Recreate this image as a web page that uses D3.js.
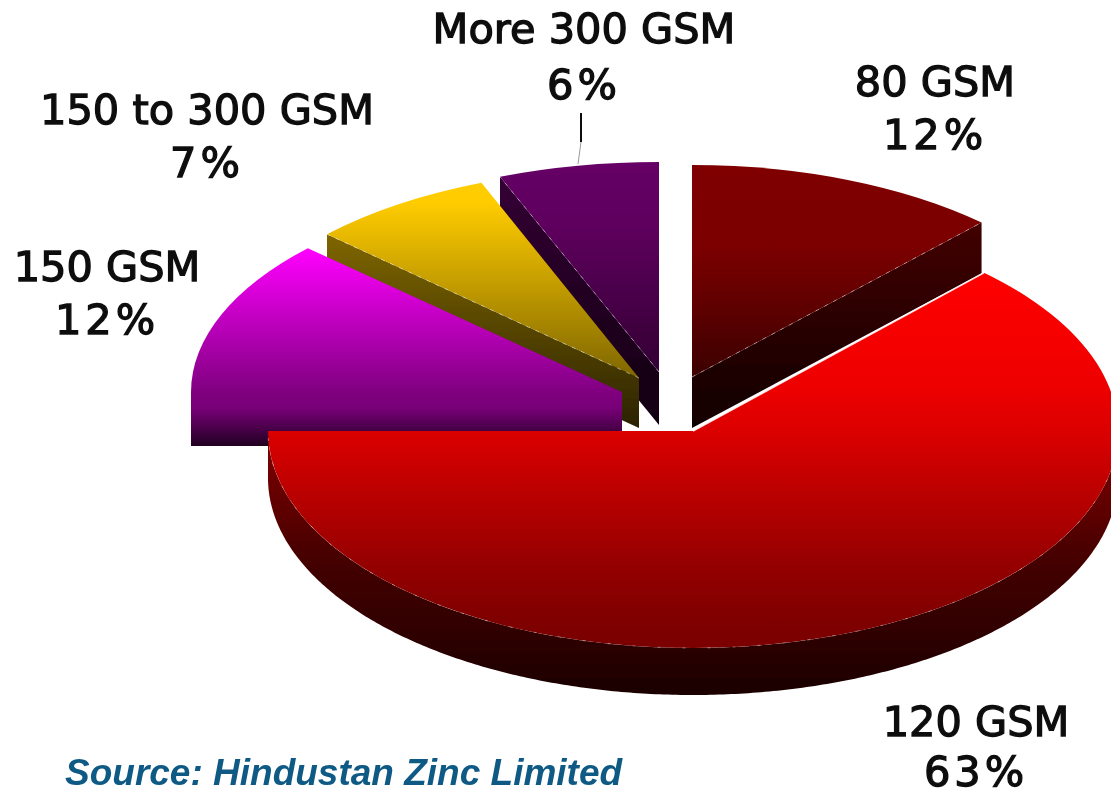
<!DOCTYPE html>
<html>
<head>
<meta charset="utf-8">
<title>GSM share</title>
<script src="https://cdn.jsdelivr.net/npm/d3@7"></script>
<style>
    html, body { margin: 0; padding: 0; background: #fff; }
    svg { display: block; }
    .lbl { font-family: "DejaVu Sans", sans-serif; font-size: 41.5px; fill: #111; stroke: #111; stroke-width: 1.3px; text-anchor: middle; }
    .pct { letter-spacing: 4px; }
    .source { font-family: "Liberation Sans", Arial, sans-serif; font-size: 37px; font-weight: bold; font-style: italic; fill: #0f5a85; }
</style>
</head>
<body>
<svg id="chart" width="1111" height="796"></svg>
<script>
// data, clockwise from 12 o'clock
const categories = ['80 GSM', '120 GSM', '150 GSM', '150 to 300 GSM', 'More 300 GSM'];
const shares = [12, 63, 12, 7, 6];
const sourceText = 'Source: Hindustan Zinc Limited';

// colours: top face stops, then side stops
const faceStops = [
    [[0, '#800000'], [0.4, '#7a0000'], [1, '#3c0000']],
    [[0, '#ff0000'], [0.3, '#ee0000'], [0.42, '#dc0000'], [0.6, '#b80000'], [0.77, '#960000'], [0.92, '#800000'], [1, '#7a0000']],
    [[0, '#ff00ff'], [1, '#800080']],
    [[0, '#ffcc00'], [0.1, '#ffcc00'], [1, '#7f6600']],
    [[0, '#660066'], [0.3, '#5e005e'], [1, '#330033']]
];
const sideStops = [
    [[0, '#420000'], [1, '#100000']],
    [[0, '#880000'], [0.2, '#6a0000'], [0.5, '#440000'], [0.8, '#2c0000'], [1, '#1a0000']],
    [[0, '#800080'], [0.3, '#780078'], [1, '#200020']],
    [[0, '#7f6600'], [1, '#2a2200']],
    [[0, '#340034'], [1, '#100010']]
];

// layout of the exploded slices
const apexX = [692, 693, 622, 639, 659];
const apexY = [377, 431, 392, 378, 372];
const radiusX = [423, 425, 431, 428, 432];
const radiusY = [212, 217, 210, 210, 210];
const depth = [51, 47, 54, 50, 53];
const drawOrder = [4, 3, 2, 0, 1];

// label anchors: centre x, first baseline, second baseline
const labelX = [935, 976, 107, 207, 584];
const labelY1 = [96, 736, 281, 124, 43];
const labelY2 = [149, 786, 334, 177, 99];

const svg = d3.select('#chart');
const defs = svg.append('defs');

const blur = defs.append('filter').attr('id', 'soft')
    .attr('x', '-5%').attr('y', '-5%').attr('width', '110%').attr('height', '110%');
blur.append('feGaussianBlur').attr('stdDeviation', 0.7);

function addGradient(id, stops) {
    const g = defs.append('linearGradient').attr('id', id)
        .attr('x1', 0).attr('y1', 0).attr('x2', 0).attr('y2', 1);
    stops.forEach(s => g.append('stop').attr('offset', s[0]).attr('stop-color', s[1]));
}

const arcs = d3.pie().sort(null).value(d => d)(shares);
const root = svg.append('g').attr('filter', 'url(#soft)');

drawOrder.forEach(i => {
    const a = arcs[i];
    const cx = apexX[i], cy = apexY[i], rx = radiusX[i], ry = radiusY[i], dp = depth[i];
    const pt = t => [cx + rx * Math.sin(t), cy - ry * Math.cos(t)];

    addGradient('face' + i, faceStops[i]);
    addGradient('side' + i, sideStops[i]);

    const g = root.append('g');
    const line = d3.line();
    let rim = null;

    // outer rim, only the part turned towards the viewer
    const from = Math.max(a.startAngle, Math.PI / 2);
    const to = Math.min(a.endAngle, Math.PI * 1.5);
    if (to > from) {
        const ts = d3.range(from, to, 0.01).concat([to]);
        rim = ts.map(pt);
        const lower = ts.slice().reverse().map(t => { const p = pt(t); return [p[0], p[1] + dp]; });
        g.append('path').attr('d', line(rim.concat(lower)) + 'Z').attr('fill', `url(#side${i})`);
    }

    // cut faces that look at the viewer
    const cuts = [];
    if (Math.sin(a.startAngle) < -1e-6) cuts.push(a.startAngle);
    if (Math.sin(a.endAngle) > 1e-6) cuts.push(a.endAngle);
    cuts.forEach(t => {
        const p = pt(t);
        g.append('path')
            .attr('d', line([[cx, cy], p, [p[0], p[1] + dp], [cx, cy + dp]]) + 'Z')
            .attr('fill', `url(#side${i})`);
    });

    // top face
    const arc = d3.arc().innerRadius(0).outerRadius(rx).startAngle(a.startAngle).endAngle(a.endAngle);
    g.append('path')
        .attr('d', arc())
        .attr('transform', `translate(${cx},${cy}) scale(1,${ry / rx})`)
        .attr('fill', `url(#face${i})`);

    // dotted pale edge between face and side, the flat cut of the 150 GSM slice has none
    cuts.filter(t => Math.abs(Math.cos(t)) > 0.01).forEach(t => {
        const p = pt(t);
        g.append('line')
            .attr('x1', cx).attr('y1', cy).attr('x2', p[0]).attr('y2', p[1])
            .attr('stroke', '#fff').attr('stroke-opacity', 0.45).attr('stroke-width', 1)
            .attr('stroke-dasharray', '4 6');
    });
    if (rim) {
        g.append('path').attr('d', line(rim)).attr('fill', 'none')
            .attr('stroke', '#fff').attr('stroke-opacity', 0.4).attr('stroke-width', 1)
            .attr('stroke-dasharray', '3 22');
    }
    if (i === 1) {
        const p = pt(a.startAngle);
        g.append('line')
            .attr('x1', cx).attr('y1', cy).attr('x2', p[0]).attr('y2', p[1])
            .attr('stroke', '#fff').attr('stroke-opacity', 0.85).attr('stroke-width', 1.6);
    }
});

// leader for the small slice
const leadX = labelX[4] - 3;
root.append('line').attr('x1', leadX).attr('y1', 113).attr('x2', leadX).attr('y2', 142)
    .attr('stroke', '#111').attr('stroke-width', 2);
root.append('line').attr('x1', leadX).attr('y1', 142).attr('x2', leadX - 3).attr('y2', 164)
    .attr('stroke', '#999').attr('stroke-width', 1);

const labels = svg.append('g').attr('filter', 'url(#soft)');
categories.forEach((c, i) => {
    labels.append('text').attr('class', 'lbl').attr('x', labelX[i]).attr('y', labelY1[i]).text(c);
    labels.append('text').attr('class', 'lbl pct').attr('x', labelX[i]).attr('y', labelY2[i]).text(shares[i] + '%');
});

svg.append('text').attr('class', 'source').attr('x', 65).attr('y', 785).text(sourceText);
</script>
</body>
</html>
